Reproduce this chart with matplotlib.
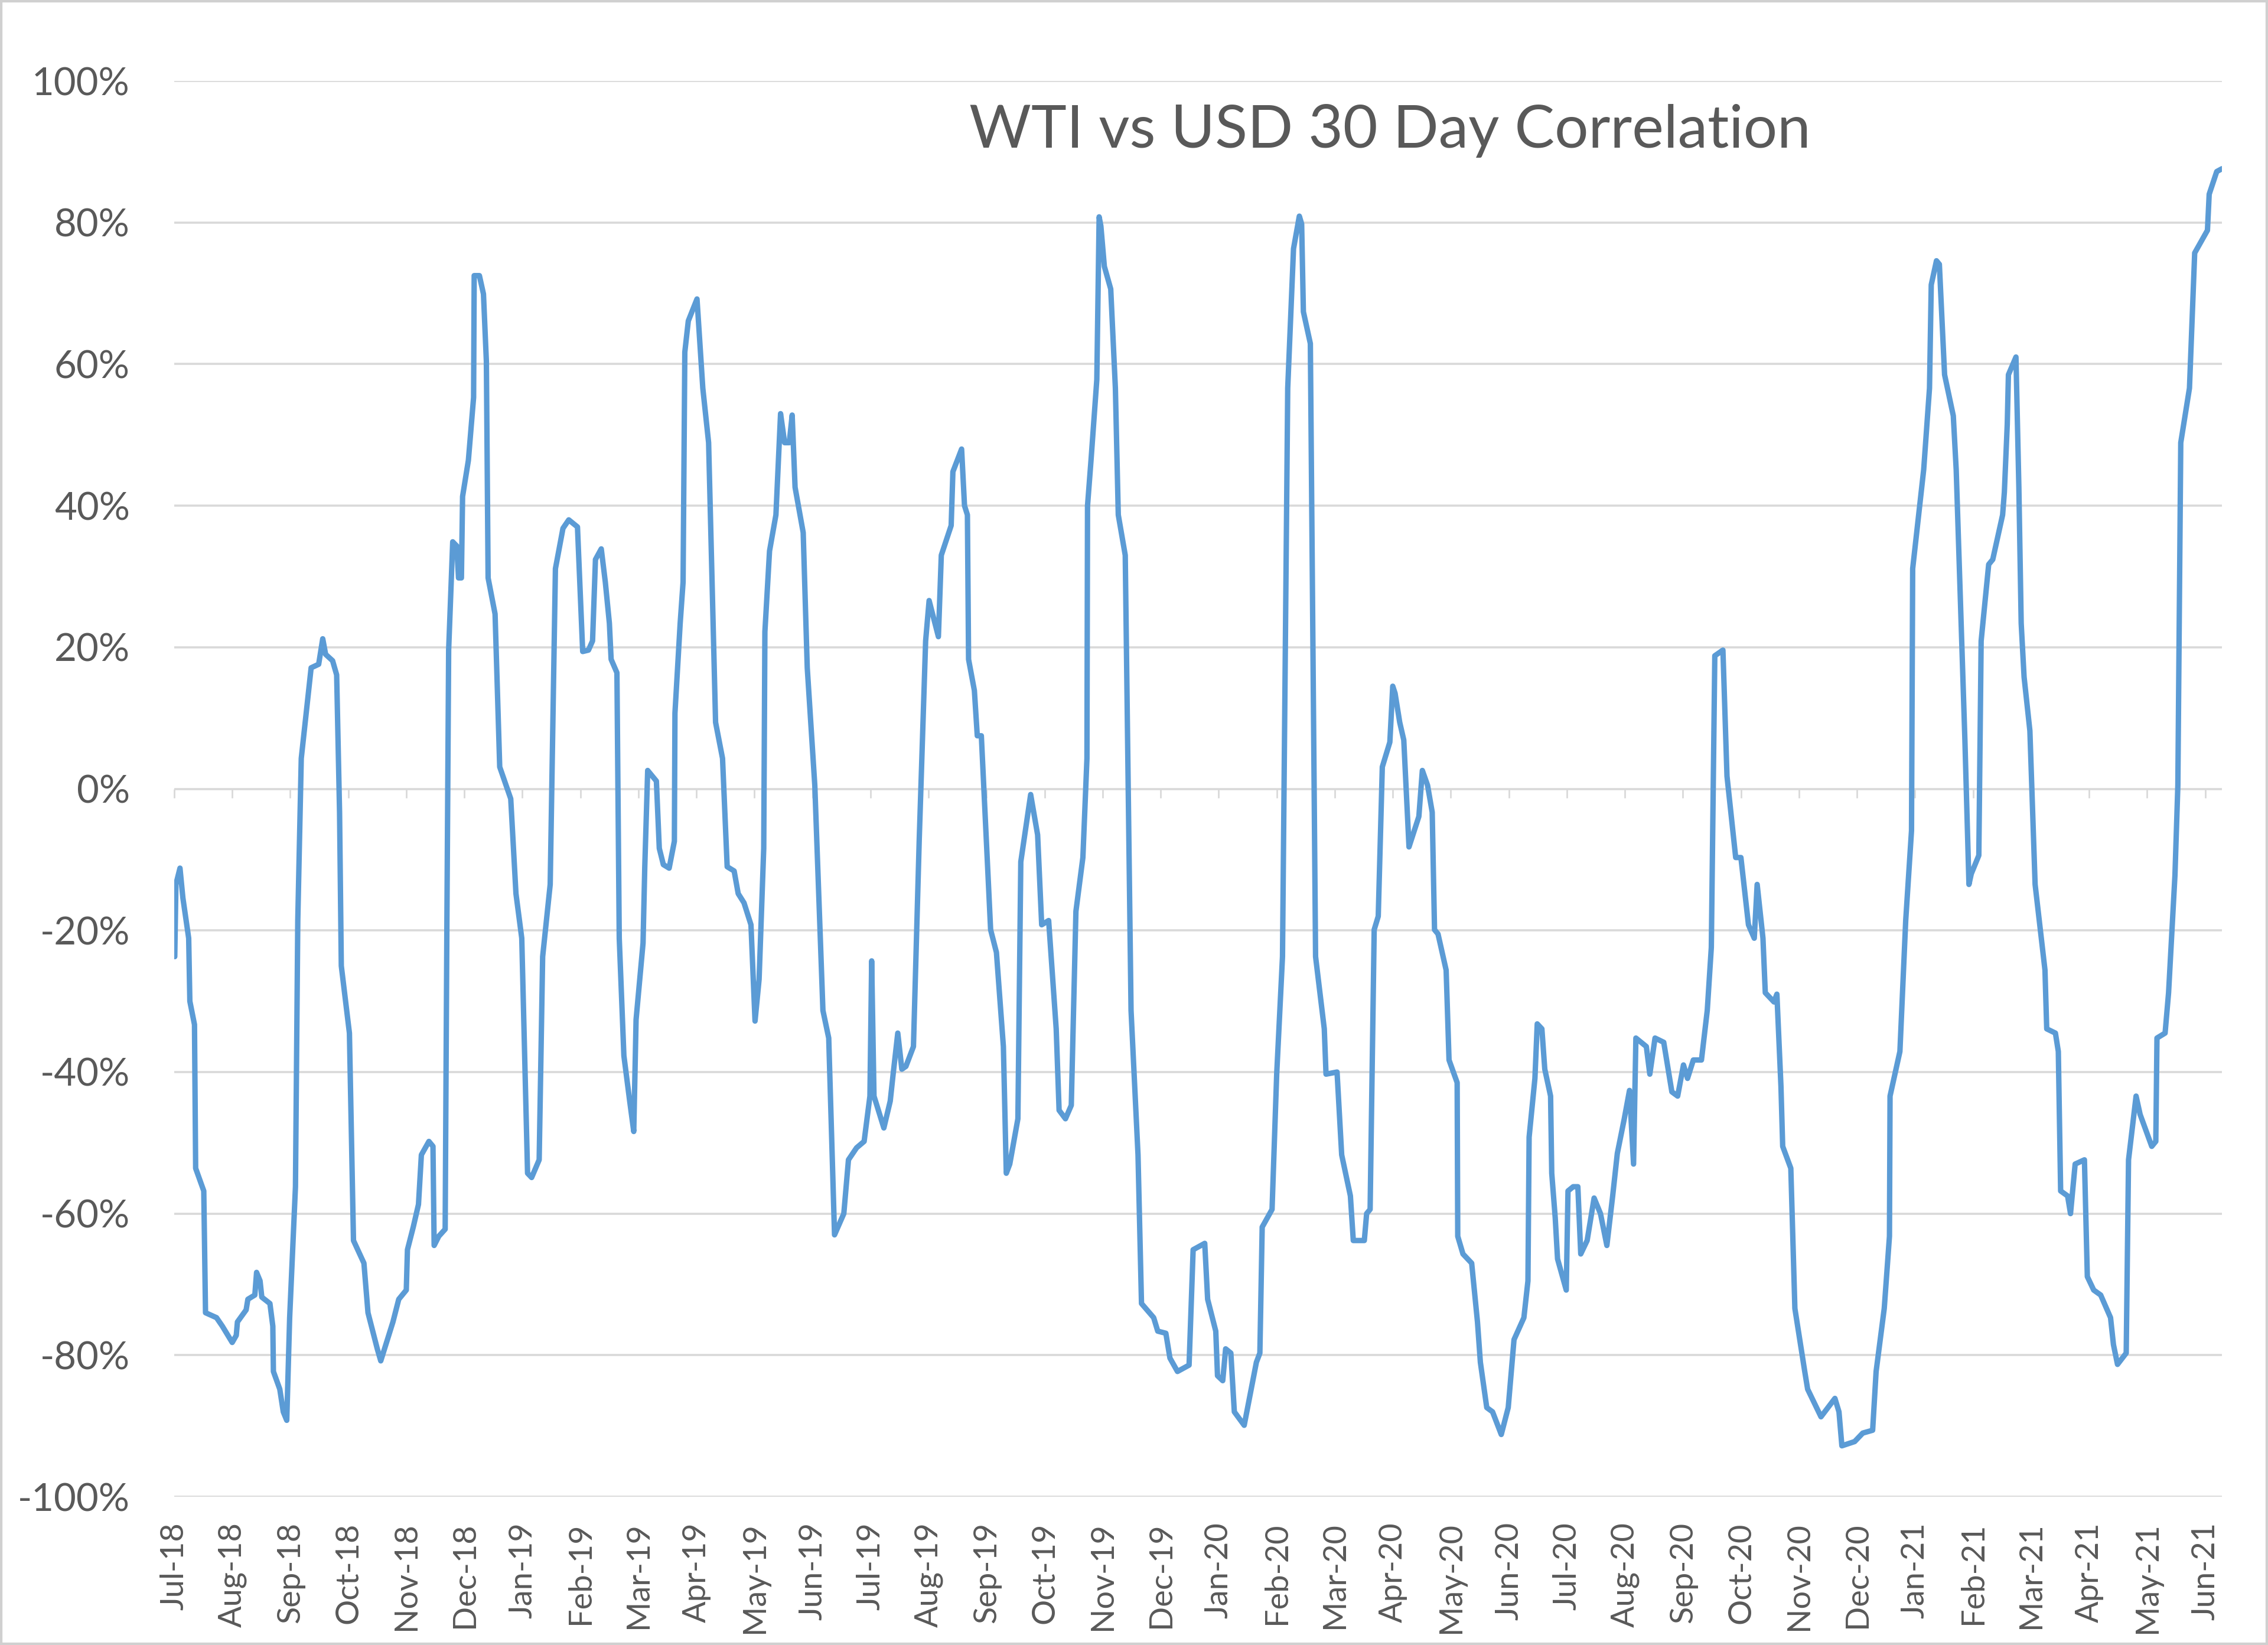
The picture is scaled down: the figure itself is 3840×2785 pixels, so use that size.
import matplotlib.pyplot as plt
from matplotlib.patches import Rectangle

# WTI vs USD rolling 30 day correlation
# x = months since Jul-18 (one axis label per month), y = correlation in %
months = [0.01, 0.03, 0.10, 0.15, 0.25, 0.27, 0.35, 0.37, 0.51, 0.54,
          0.73, 0.83, 1.00, 1.07, 1.09, 1.24, 1.27, 1.39, 1.42, 1.48,
          1.51, 1.65, 1.70, 1.71, 1.82, 1.88, 1.94, 1.99, 2.09, 2.13,
          2.19, 2.36, 2.49, 2.56, 2.61, 2.73, 2.80, 2.85, 2.88, 3.02,
          3.09, 3.27, 3.34, 3.50, 3.56, 3.77, 3.87, 4.00, 4.02, 4.12,
          4.21, 4.26, 4.39, 4.46, 4.48, 4.56, 4.67, 4.70, 4.72, 4.73,
          4.80, 4.87, 4.90, 4.95, 4.97, 5.07, 5.16, 5.17, 5.26, 5.33,
          5.38, 5.41, 5.53, 5.61, 5.80, 5.89, 5.99, 6.09, 6.16, 6.29,
          6.35, 6.48, 6.57, 6.70, 6.80, 6.95, 7.04, 7.14, 7.21, 7.26,
          7.36, 7.43, 7.50, 7.53, 7.63, 7.67, 7.75, 7.85, 7.92, 7.96,
          8.08, 8.11, 8.16, 8.31, 8.36, 8.43, 8.53, 8.62, 8.63, 8.72,
          8.77, 8.80, 8.86, 9.01, 9.11, 9.21, 9.33, 9.45, 9.53, 9.65,
          9.72, 9.82, 9.94, 10.01, 10.08, 10.16, 10.18, 10.26, 10.37, 10.45,
          10.52, 10.60, 10.65, 10.70, 10.84, 10.91, 11.04, 11.18, 11.28, 11.38,
          11.54, 11.62, 11.76, 11.89, 11.99, 12.02, 12.06, 12.23, 12.34, 12.39,
          12.47, 12.54, 12.61, 12.74, 12.84, 12.95, 13.01, 13.17, 13.22, 13.39,
          13.42, 13.57, 13.62, 13.67, 13.69, 13.79, 13.84, 13.91, 14.07, 14.17,
          14.29, 14.34, 14.40, 14.54, 14.59, 14.76, 14.88, 14.95, 15.07, 15.20,
          15.25, 15.36, 15.46, 15.54, 15.66, 15.73, 15.74, 15.80, 15.90, 15.94,
          15.97, 16.03, 16.14, 16.22, 16.27, 16.39, 16.49, 16.61, 16.67, 16.88,
          16.95, 17.09, 17.16, 17.29, 17.49, 17.56, 17.76, 17.81, 17.95, 17.98,
          18.07, 18.12, 18.21, 18.27, 18.44, 18.65, 18.71, 18.75, 18.92, 19.00,
          19.10, 19.19, 19.29, 19.39, 19.43, 19.46, 19.58, 19.67, 19.82, 19.85,
          20.04, 20.12, 20.27, 20.32, 20.51, 20.55, 20.61, 20.68, 20.75, 20.82,
          20.95, 21.00, 21.04, 21.12, 21.19, 21.28, 21.45, 21.51, 21.60, 21.68,
          21.72, 21.78, 21.92, 21.97, 22.11, 22.12, 22.21, 22.36, 22.46, 22.51,
          22.62, 22.72, 22.87, 22.99, 23.09, 23.26, 23.33, 23.35, 23.45, 23.49,
          23.57, 23.62, 23.72, 23.74, 23.80, 23.84, 23.99, 24.02, 24.11, 24.19,
          24.24, 24.35, 24.47, 24.58, 24.69, 24.79, 24.87, 24.99, 25.08, 25.15,
          25.19, 25.37, 25.43, 25.52, 25.67, 25.81, 25.91, 26.01, 26.08, 26.18,
          26.32, 26.42, 26.49, 26.55, 26.69, 26.76, 26.91, 27.00, 27.13, 27.23,
          27.28, 27.38, 27.42, 27.57, 27.62, 27.69, 27.72, 27.86, 27.93, 28.10,
          28.15, 28.38, 28.62, 28.69, 28.74, 28.96, 29.10, 29.27, 29.33, 29.47,
          29.56, 29.57, 29.74, 29.84, 29.94, 29.96, 30.15, 30.25, 30.28, 30.37,
          30.42, 30.51, 30.66, 30.71, 30.86, 30.93, 30.97, 31.10, 31.14, 31.27,
          31.34, 31.51, 31.54, 31.59, 31.61, 31.74, 31.79, 31.83, 31.88, 31.98,
          32.07, 32.24, 32.27, 32.42, 32.47, 32.51, 32.63, 32.68, 32.76, 32.92,
          32.97, 33.08, 33.20, 33.37, 33.42, 33.49, 33.64, 33.68, 33.81, 33.88,
          34.08, 34.15, 34.17, 34.31, 34.37, 34.48, 34.53, 34.58, 34.73, 34.82,
          35.04, 35.07, 35.20, 35.29]

corr = [-23.7, -13.5, -11.2, -15.4, -21.1, -30.0, -33.3, -53.6, -56.8, -74.0,
        -74.7, -75.9, -78.2, -77.2, -75.3, -73.6, -72.1, -71.5, -68.3, -69.5,
        -71.8, -72.7, -75.9, -82.3, -84.8, -88.0, -89.2, -74.7, -56.2, -18.6,
        4.3, 17.1, 17.6, 21.2, 19.0, 18.1, 16.1, -3.3, -25.0, -34.5,
        -63.8, -67.0, -74.0, -79.1, -80.8, -75.3, -72.1, -70.8, -65.1, -61.9,
        -58.7, -51.7, -49.8, -50.5, -64.5, -63.2, -62.2, -18.6, 6.9, 19.6,
        34.9, 34.3, 29.8, 29.8, 41.3, 46.4, 55.3, 72.5, 72.5, 69.9,
        60.4, 29.8, 24.7, 3.1, -1.4, -14.8, -21.1, -54.3, -54.9, -52.4,
        -23.7, -13.5, 31.1, 36.8, 38.0, 37.0, 19.4, 19.6, 20.9, 32.4,
        33.9, 29.2, 23.4, 18.3, 16.4, -21.1, -37.7, -44.1, -48.4, -32.6,
        -21.8, -11.0, 2.6, 1.1, -8.4, -10.7, -11.2, -7.4, 10.7, 23.4,
        29.2, 61.7, 66.1, 69.2, 56.6, 48.9, 9.4, 4.3, -11.0, -11.6,
        -14.8, -16.1, -19.2, -32.8, -26.9, -8.4, 22.2, 33.6, 38.7, 53.0,
        48.9, 48.9, 52.8, 42.6, 36.2, 17.1, 0.5, -31.3, -35.2, -63.0,
        -60.0, -52.4, -50.7, -49.8, -43.4, -24.3, -43.4, -47.9, -44.1, -40.3,
        -34.5, -39.6, -39.2, -36.4, -7.1, 20.9, 26.6, 21.5, 33.0, 37.2,
        44.8, 48.0, 40.0, 38.7, 18.3, 13.9, 7.5, 7.5, -19.9, -23.1,
        -36.4, -54.3, -53.0, -46.6, -10.3, -0.8, -6.5, -19.2, -18.6, -33.9,
        -45.4, -46.6, -44.7, -17.3, -9.7, 4.3, 40.0, 46.4, 57.8, 80.8,
        79.5, 73.8, 70.6, 56.6, 38.7, 33.0, -31.3, -51.7, -72.7, -74.7,
        -76.6, -76.9, -80.4, -82.3, -81.4, -65.1, -64.2, -72.1, -76.6, -82.9,
        -83.6, -79.1, -79.7, -88.0, -89.9, -81.0, -79.7, -61.9, -59.4, -40.3,
        -23.7, 56.6, 76.3, 80.9, 79.8, 67.4, 62.9, -23.7, -33.9, -40.3,
        -40.0, -51.7, -57.5, -63.8, -63.8, -60.0, -59.4, -19.9, -18.0, 3.1,
        6.6, 14.5, 13.5, 9.4, 6.9, -8.2, -3.9, 2.6, 0.5, -3.3,
        -19.9, -20.5, -25.6, -38.3, -41.5, -63.2, -65.7, -67.0, -75.3, -81.0,
        -87.4, -88.0, -91.2, -87.4, -77.8, -74.7, -69.5, -49.2, -40.9, -33.2,
        -33.9, -39.6, -43.4, -54.3, -60.6, -66.4, -70.8, -56.8, -56.2, -56.2,
        -65.7, -63.8, -57.8, -60.0, -64.5, -57.5, -51.5, -46.6, -42.6, -53.0,
        -35.2, -36.4, -40.3, -35.2, -35.8, -42.8, -43.4, -39.0, -40.9, -38.3,
        -38.3, -31.3, -22.4, 18.8, 19.6, 1.8, -9.7, -9.7, -19.2, -21.1,
        -13.5, -21.1, -28.8, -30.1, -29.0, -42.0, -50.5, -53.6, -73.4, -82.3,
        -84.8, -88.7, -86.1, -88.0, -92.8, -92.2, -91.0, -90.6, -82.3, -73.4,
        -63.2, -43.4, -37.1, -18.6, -5.9, 31.1, 45.1, 56.6, 71.2, 74.6,
        74.1, 58.5, 52.7, 45.1, 6.9, -13.5, -12.0, -9.4, 20.9, 31.7,
        32.4, 38.7, 41.9, 51.5, 58.5, 61.0, 42.6, 23.4, 15.8, 8.2,
        -13.5, -25.6, -33.9, -34.5, -37.1, -56.8, -57.5, -60.0, -53.0, -52.4,
        -68.9, -70.8, -71.5, -74.7, -78.5, -81.3, -79.7, -52.4, -43.4, -46.0,
        -50.5, -49.8, -35.2, -34.5, -28.8, -12.2, 0.5, 48.9, 56.6, 75.7,
        78.9, 84.0, 87.2, 87.6]

month_labels = ['Jul-18', 'Aug-18', 'Sep-18', 'Oct-18', 'Nov-18', 'Dec-18',
                'Jan-19', 'Feb-19', 'Mar-19', 'Apr-19', 'May-19', 'Jun-19',
                'Jul-19', 'Aug-19', 'Sep-19', 'Oct-19', 'Nov-19', 'Dec-19',
                'Jan-20', 'Feb-20', 'Mar-20', 'Apr-20', 'May-20', 'Jun-20',
                'Jul-20', 'Aug-20', 'Sep-20', 'Oct-20', 'Nov-20', 'Dec-20',
                'Jan-21', 'Feb-21', 'Mar-21', 'Apr-21', 'May-21', 'Jun-21']
pct_ticks = list(range(-100, 101, 20))

plt.rcParams['font.family'] = ['Lato', 'DejaVu Sans']
grey_text = '#595959'
grid_grey = '#D9D9D9'

fig = plt.figure(figsize=(38.4, 27.85), dpi=100)
ax = fig.add_axes([0.0768, 0.0901, 0.9029, 0.8607])

ax.plot(months, corr, color='#5B9BD5', lw=6.6, solid_joinstyle='round',
        solid_capstyle='round', zorder=3)

ax.set_xlim(0, 35.29)
ax.set_ylim(-100, 100)

# y axis: percent labels, light horizontal gridlines
ax.set_yticks(pct_ticks)
ax.set_yticklabels([f'{v}%' for v in pct_ticks])
ax.yaxis.grid(True, color=grid_grey, lw=2.6)
ax.set_axisbelow(True)
ax.tick_params(axis='y', length=0, pad=54, labelsize=47, labelcolor=grey_text)

# x axis: month labels at the bottom, rotated
ax.set_xticks(range(len(month_labels)))
ax.set_xticklabels(month_labels, rotation=90)
ax.tick_params(axis='x', length=0, pad=31, labelsize=39, labelcolor=grey_text)

for s in ax.spines.values():
    s.set_visible(False)

# small tick marks on the 0% line (horizontal axis crosses at zero)
zero_axis = ax.secondary_xaxis(0.5)
zero_axis.set_xticks(range(len(month_labels)))
zero_axis.tick_params(axis='x', direction='in', length=11, width=2,
                      color=grid_grey, labeltop=False, labelbottom=False)
for s in zero_axis.spines.values():
    s.set_visible(False)

fig.text(0.6128, 0.9102, 'WTI vs USD 30 Day Correlation', ha='center',
         va='baseline', fontsize=73, color=grey_text)

# chart area border
fig.patches.append(Rectangle((0, 0), 1, 1, transform=fig.transFigure,
                             fill=False, edgecolor='#D0D0D0', lw=6))

fig.savefig('out.png', dpi=100)
